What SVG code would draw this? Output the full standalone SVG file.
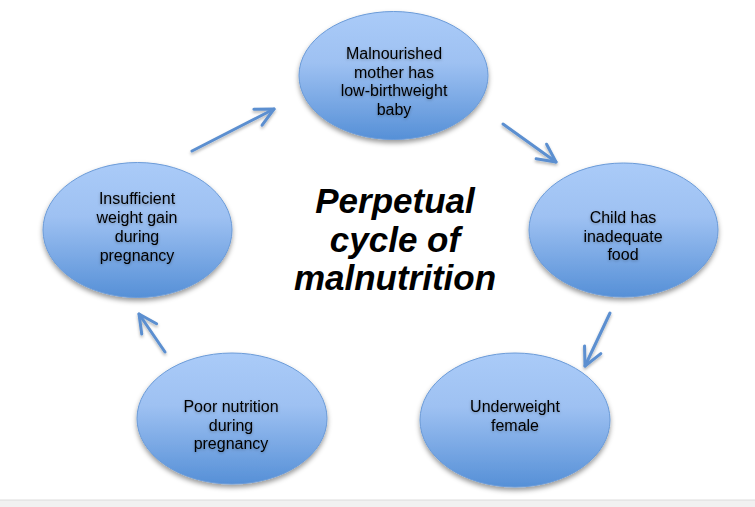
<svg xmlns="http://www.w3.org/2000/svg" width="755" height="507" viewBox="0 0 755 507">
  <style>
    .node ellipse { fill: url(#g); stroke: #6b9bd8; stroke-width: 1; filter: url(#sh); }
    .node text { font-family: "Liberation Sans", Arial, sans-serif; font-size: 16px; fill: #000; text-anchor: middle; filter: url(#tsh); }
    .title { font-family: "Liberation Sans", Arial, sans-serif; font-size: 35px; font-weight: bold; font-style: italic; fill: #000; text-anchor: middle; }
    .conn line { stroke: #5b8fd0; stroke-width: 3; stroke-linecap: round; marker-end: url(#arr); filter: url(#ash); }
  </style>
  <defs>
    <linearGradient id="g" x1="0" y1="0" x2="0" y2="1">
      <stop offset="0" stop-color="#aacbf8"/>
      <stop offset="0.4" stop-color="#9ec1f2"/>
      <stop offset="1" stop-color="#5690d7"/>
    </linearGradient>
    <filter id="sh" x="-20%" y="-20%" width="140%" height="150%">
      <feDropShadow dx="0" dy="3" stdDeviation="2.5" flood-color="#000" flood-opacity="0.4"/>
    </filter>
    <filter id="tsh" x="-20%" y="-40%" width="140%" height="180%">
      <feDropShadow dx="0" dy="1" stdDeviation="1.5" flood-color="#000" flood-opacity="0.3"/>
    </filter>
    <filter id="ash" x="-30%" y="-30%" width="160%" height="160%">
      <feDropShadow dx="0" dy="2" stdDeviation="1.5" flood-color="#000" flood-opacity="0.3"/>
    </filter>
    <marker id="arr" viewBox="-22 -12 26 24" markerWidth="26" markerHeight="24" refX="0" refY="0" orient="auto" markerUnits="userSpaceOnUse">
      <path d="M-18,-9 L0,0 L-18,9" fill="none" stroke="#5b8fd0" stroke-width="3" stroke-linecap="round" stroke-linejoin="round"/>
    </marker>
  </defs>
  <rect x="0" y="0" width="755" height="507" fill="#fff"/>
  <rect x="0" y="500" width="755" height="7" fill="#f1f1f1"/>
  <line x1="0" y1="500" x2="755" y2="500" stroke="#dcdcdc" stroke-width="1"/>

  <g class="conn">
    <line x1="192" y1="151" x2="274" y2="109"/>
    <line x1="503" y1="124" x2="556" y2="162"/>
    <line x1="610" y1="313" x2="585" y2="366"/>
    <line x1="408" y1="433" x2="341" y2="433"/>
    <line x1="165" y1="352" x2="139" y2="314"/>
  </g>

  <g id="n1" class="node">
    <ellipse cx="393.5" cy="75.5" rx="94.5" ry="64"/>
    <text x="394" y="59">Malnourished</text>
    <text x="394" y="77.5">mother has</text>
    <text x="394" y="96">low-birthweight</text>
    <text x="394" y="114.5">baby</text>
  </g>
  <g id="n2" class="node">
    <ellipse cx="623.5" cy="230" rx="94.5" ry="67"/>
    <text x="623" y="223">Child has</text>
    <text x="623" y="241.5">inadequate</text>
    <text x="623" y="260">food</text>
  </g>
  <g id="n3" class="node">
    <ellipse cx="515" cy="420" rx="95" ry="67"/>
    <text x="515" y="412">Underweight</text>
    <text x="515" y="430.5">female</text>
  </g>
  <g id="n4" class="node">
    <ellipse cx="232" cy="418.5" rx="95" ry="65.5"/>
    <text x="231" y="412">Poor nutrition</text>
    <text x="231" y="430.5">during</text>
    <text x="231" y="449">pregnancy</text>
  </g>
  <g id="n5" class="node">
    <ellipse cx="137.5" cy="230" rx="94.5" ry="67.5"/>
    <text x="137" y="203.5">Insufficient</text>
    <text x="137" y="222.5">weight gain</text>
    <text x="137" y="241.5">during</text>
    <text x="137" y="260.5">pregnancy</text>
  </g>

  <g id="title">
    <text class="title" x="395" y="213">Perpetual</text>
    <text class="title" x="395" y="252">cycle of</text>
    <text class="title" x="395" y="290">malnutrition</text>
  </g>
</svg>
